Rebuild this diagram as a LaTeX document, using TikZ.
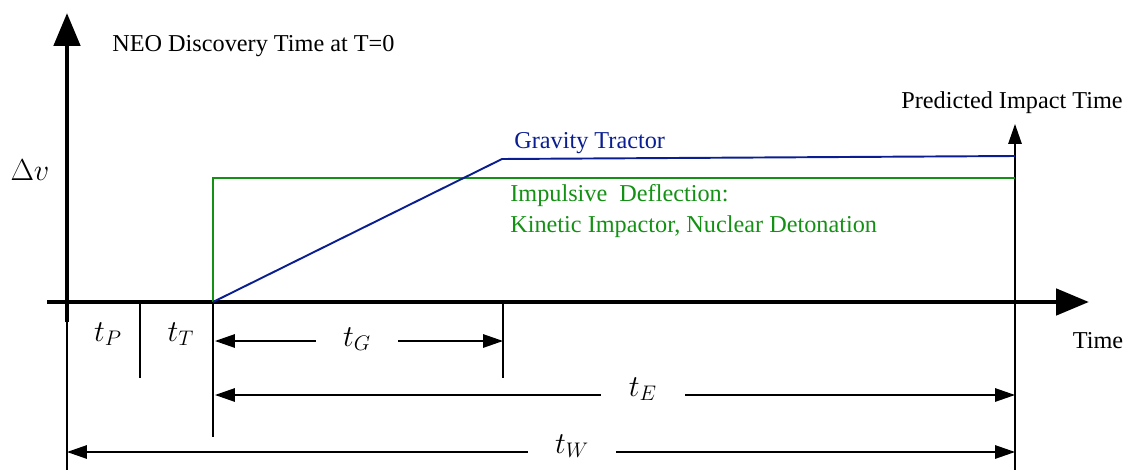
\documentclass[tikz,border=0pt]{standalone}
\usepackage{fontspec}
\setmainfont{Liberation Serif}
\usepackage{amsmath,amssymb}
\usepackage{xcolor}
\usetikzlibrary{arrows.meta,positioning}
\definecolor{gtblue}{RGB}{10,30,145}
\definecolor{idgreen}{RGB}{20,145,20}

\begin{document}
\begin{tikzpicture}[x=0.02cm,y=-0.02cm]
\useasboundingbox (0,0) rectangle (1133,470);
\tikzstyle{axis}=[line width=2.8pt, -{Triangle[length=0.66cm,width=0.52cm]}]
\tikzstyle{tickline}=[line width=0.8pt]
\tikzstyle{dim}=[line width=0.8pt, {Triangle[length=0.4cm,width=0.27cm]}-{Triangle[length=0.4cm,width=0.27cm]}]
\tikzstyle{txt}=[font=\fontsize{13.8}{16}\selectfont, inner sep=0pt]
\tikzstyle{mlbl}=[font=\fontsize{17}{20}\selectfont, inner sep=0pt]
\tikzstyle{dimlbl}=[mlbl, fill=white, inner xsep=0.55cm, inner ysep=3pt]

% axes
\coordinate (O) at (67,302);
\coordinate (ybase) at (67,322);
\coordinate (ytop) at (67,13);
\coordinate (ybot) at (67,470);
\coordinate (xleft) at (47,302);
\coordinate (xright) at (1089,302);
\draw[axis] (ybase) -- (ytop);
\draw[tickline] (ybase) -- (ybot);
\draw[axis] (xleft) -- (xright);

% ticks below the time axis
\coordinate (p0) at (140,302);
\coordinate (p1) at (140,378);
\coordinate (t0) at (213,302);
\coordinate (t1) at (213,437);
\coordinate (g0) at (503,302);
\coordinate (g1) at (503,378);
\coordinate (imp0) at (1015,470);
\coordinate (imp1) at (1015,124);
\draw[tickline] (p0) -- (p1);
\draw[tickline] (t0) -- (t1);
\draw[tickline] (g0) -- (g1);
\draw[tickline, -{Triangle[length=0.4cm,width=0.27cm]}] (imp0) -- (imp1);

% delta v curves
\coordinate (s) at (213,302);
\coordinate (gr1) at (213,178);
\coordinate (gr2) at (1015,178);
\coordinate (bl1) at (502,159);
\coordinate (bl2) at (1015,156);
\draw[idgreen, line width=1.1pt] (s) -- (gr1) -- (gr2);
\draw[gtblue, line width=1.1pt] (s) -- (bl1) -- (bl2);

% time spans
\coordinate (gL) at (215,341);
\coordinate (gR) at (503,341);
\coordinate (eL) at (215,395);
\coordinate (eR) at (1015,395);
\coordinate (wL) at (67,452);
\coordinate (wR) at (1015,452);
\draw[dim] (gL) -- (gR);
\draw[dim] (eL) -- (eR);
\draw[dim] (wL) -- (wR);
\node[dimlbl] (tG) at (357,339) {$t_G$};
\node[dimlbl] (tE) at (643,389) {$t_E$};
\node[dimlbl] (tW) at (572,446) {$t_W$};
\node[mlbl] (tP) at (108,334) {$t_P$};
\node[mlbl] (tT) at (181,334) {$t_T$};
\node[mlbl] (dv) at (30,170) {$\Delta v$};

% texts
\node[txt, anchor=west] (neo) at (112,46) {NEO Discovery Time at T=0};
\node[txt] (pit) at (1012,103) {Predicted Impact Time};
\node[txt] (time) at (1098,341) {Time};
\node[txt, gtblue, anchor=west] (gt) at (514,143) {Gravity Tractor};
\node[txt, idgreen, anchor=west] (id) at (510,196) {Impulsive~ Deflection:};
\node[txt, idgreen, anchor=west] (ki) at (510,227) {Kinetic Impactor, Nuclear Detonation};
\end{tikzpicture}
\end{document}
